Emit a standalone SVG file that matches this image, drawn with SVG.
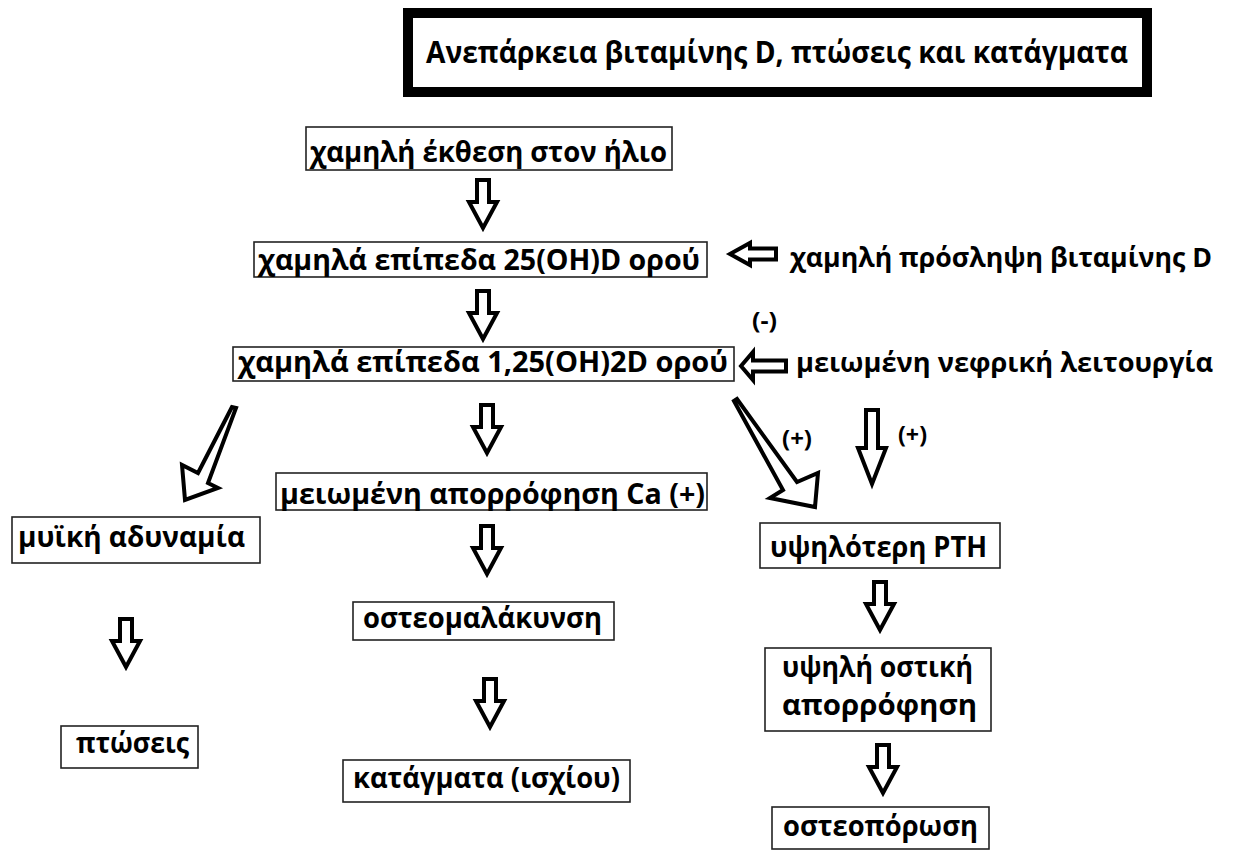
<svg xmlns="http://www.w3.org/2000/svg" xmlns:xlink="http://www.w3.org/1999/xlink" width="1237" height="854" viewBox="0 0 1237 854">
  <style>
    .box { fill: #fff; stroke: #222; stroke-width: 1.6; }
    .title-box { fill: #fff; stroke: #000; stroke-width: 10; }
    .t { font-family: "Open Sans", "Noto Sans", "DejaVu Sans", sans-serif; font-weight: 700; font-size: 28.5px; fill: #000; }
    .title { font-size: 31px; }
    .side { font-size: 26.5px; }
    .lbl { font-size: 24px; }
    .arrow { fill: #fff; stroke: #000; stroke-width: 4; stroke-linejoin: miter; }
  </style>
  <defs>
    <!-- hollow block arrow pointing down, origin at top centre -->
    <path id="down" d="M-6,0 H6 V22 H14 L0,48 L-14,22 H-6 Z"/>
  </defs>

  <rect width="1237" height="854" fill="#fff"/>

  <g id="title">
    <rect class="title-box" x="408" y="13" width="739" height="79"/>
    <text class="t title" x="426" y="63" textLength="702" lengthAdjust="spacingAndGlyphs">Ανεπάρκεια βιταμίνης D, πτώσεις και κατάγματα</text>
  </g>

  <g id="connectors">
    <use href="#down" class="arrow" transform="translate(483,180)"/>
    <use href="#down" class="arrow" transform="translate(483,291)"/>
    <use href="#down" class="arrow" transform="translate(487,405)"/>
    <use href="#down" class="arrow" transform="translate(487,526)"/>
    <use href="#down" class="arrow" transform="translate(490,679)"/>
    <use href="#down" class="arrow" transform="translate(126,619)"/>
    <use href="#down" class="arrow" transform="translate(880,582)"/>
    <use href="#down" class="arrow" transform="translate(883,745)"/>
    <!-- longer arrow from kidney function to PTH -->
    <path class="arrow" d="M866,410 H878 V448 H886 L872,484 L858,448 H866 Z"/>
    <!-- arrows pointing left into the vitamin D boxes -->
    <path class="arrow" d="M730,254 L750,243 V248.5 H776 V259.5 H750 V265 Z"/>
    <path class="arrow" d="M741,366 L753,352 V360.5 H786 V371.5 H753 V380 Z"/>
    <!-- diagonal arrows, tapering shafts -->
    <path class="arrow" d="M232,407 L198,473 L182,465 L185,500 L218,488 L208,483 L236,408 Z"/>
    <path class="arrow" d="M734,401 L783,490 L770,498 L815,507 L818,473 L797,482 L737,399 Z"/>
    <text class="t lbl" x="752" y="329" textLength="25" lengthAdjust="spacingAndGlyphs">(-)</text>
    <text class="t lbl" x="782" y="447" textLength="30" lengthAdjust="spacingAndGlyphs">(+)</text>
    <text class="t lbl" x="898" y="443" textLength="29" lengthAdjust="spacingAndGlyphs">(+)</text>
  </g>

  <g id="low-sun">
    <rect class="box" x="306" y="127" width="366" height="43"/>
    <text class="t" x="310" y="162" textLength="357" lengthAdjust="spacingAndGlyphs">χαμηλή έκθεση στον ήλιο</text>
  </g>

  <g id="low-25ohd">
    <rect class="box" x="254" y="242" width="453" height="35"/>
    <text class="t" x="258" y="270" textLength="442" lengthAdjust="spacingAndGlyphs">χαμηλά επίπεδα 25(OH)D ορού</text>
  </g>

  <g id="low-intake">
    <text class="t side" x="790" y="267" textLength="422" lengthAdjust="spacingAndGlyphs">χαμηλή πρόσληψη βιταμίνης D</text>
  </g>

  <g id="low-125ohd">
    <rect class="box" x="233" y="347" width="501" height="34"/>
    <text class="t" x="238" y="372" textLength="490" lengthAdjust="spacingAndGlyphs">χαμηλά επίπεδα 1,25(OH)2D ορού</text>
  </g>

  <g id="renal">
    <text class="t side" x="796" y="372" textLength="417" lengthAdjust="spacingAndGlyphs">μειωμένη νεφρική λειτουργία</text>
  </g>

  <g id="weakness">
    <rect class="box" x="12" y="517" width="248" height="46"/>
    <text class="t" x="18" y="547" textLength="227" lengthAdjust="spacingAndGlyphs">μυϊκή αδυναμία</text>
  </g>

  <g id="ca-absorption">
    <rect class="box" x="276" y="473" width="431" height="37"/>
    <text class="t" x="280" y="504" textLength="425" lengthAdjust="spacingAndGlyphs">μειωμένη απορρόφηση Ca (+)</text>
  </g>

  <g id="osteomalacia">
    <rect class="box" x="353" y="602" width="261" height="38"/>
    <text class="t" x="363" y="628" textLength="239" lengthAdjust="spacingAndGlyphs">οστεομαλάκυνση</text>
  </g>

  <g id="fractures">
    <rect class="box" x="343" y="760" width="287" height="42"/>
    <text class="t" x="353" y="788" textLength="267" lengthAdjust="spacingAndGlyphs">κατάγματα (ισχίου)</text>
  </g>

  <g id="falls">
    <rect class="box" x="61" y="726" width="137" height="42"/>
    <text class="t" x="76" y="753" textLength="113" lengthAdjust="spacingAndGlyphs">πτώσεις</text>
  </g>

  <g id="pth">
    <rect class="box" x="760" y="523" width="240" height="45"/>
    <text class="t" x="770" y="557" textLength="217" lengthAdjust="spacingAndGlyphs">υψηλότερη PTH</text>
  </g>

  <g id="bone-resorption">
    <rect class="box" x="765" y="648" width="226" height="83"/>
    <text class="t" x="782" y="677" textLength="191" lengthAdjust="spacingAndGlyphs">υψηλή οστική</text>
    <text class="t" x="782" y="715" textLength="195" lengthAdjust="spacingAndGlyphs">απορρόφηση</text>
  </g>

  <g id="osteoporosis">
    <rect class="box" x="772" y="807" width="217" height="42"/>
    <text class="t" x="783" y="836" textLength="195" lengthAdjust="spacingAndGlyphs">οστεοπόρωση</text>
  </g>
</svg>
